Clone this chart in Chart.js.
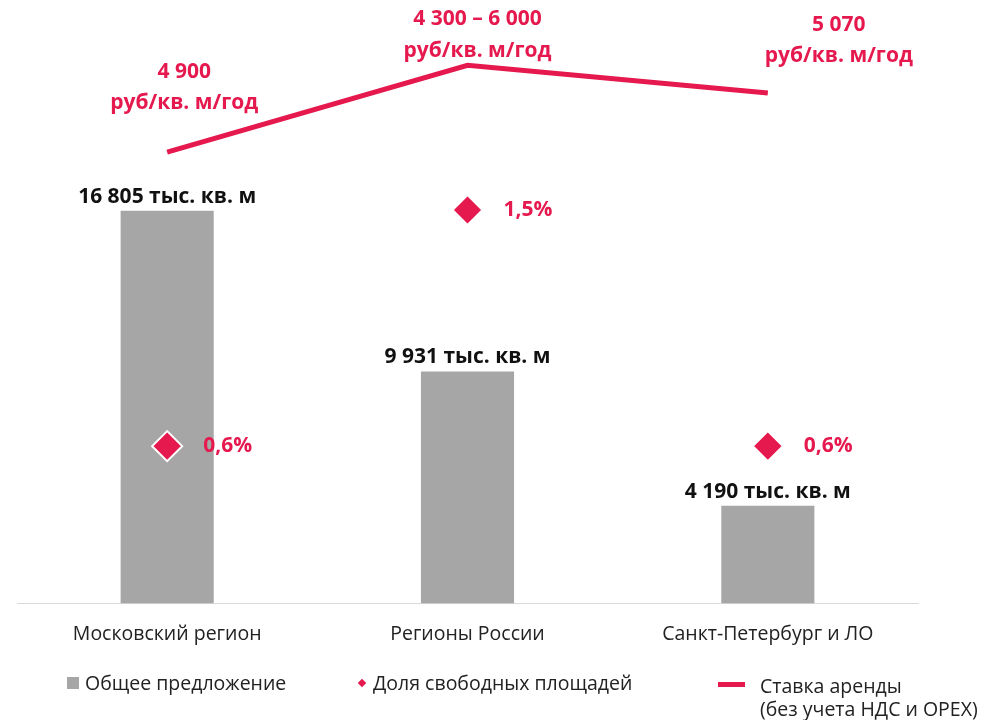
<!DOCTYPE html>
<html lang="ru">
<head>
<meta charset="utf-8">
<script src="https://cdn.jsdelivr.net/npm/chart.js@4/dist/chart.umd.min.js"></script>
<style>
  html, body { margin: 0; padding: 0; background: #fff; }
  body { width: 984px; height: 720px; position: relative; overflow: hidden; font-family: "Open Sans", sans-serif; color: #222; }
  #wrap { position: absolute; left: 0; top: 0; width: 984px; height: 680px; }
  .legend { position: absolute; font-size: 19.5px; line-height: 23px; color: #222; white-space: nowrap; }
  .sq { position: absolute; width: 12px; height: 12px; background: #a6a6a6; }
  .dm { position: absolute; width: 6px; height: 6px; background: #e5194e; transform: rotate(45deg); }
  .ln { position: absolute; width: 27px; height: 5px; background: #e5194e; }
</style>
</head>
<body>
<div id="wrap"><canvas id="rentChart" width="984" height="680"></canvas></div>

<div class="sq" style="left:67px; top:677px;"></div>
<div class="legend" style="left:85px; top:671px;">Общее предложение</div>
<div class="dm" style="left:359px; top:680px;"></div>
<div class="legend" style="left:373px; top:671px;">Доля свободных площадей</div>
<div class="ln" style="left:718px; top:682px;"></div>
<div class="legend" style="left:760px; top:674px;">Ставка аренды<br>(без учета НДС и OPEX)</div>

<script>
// categories
const regions = ["Московский регион", "Регионы России", "Санкт-Петербург и ЛО"]

// total supply, thousand sq. m
const supply = [16805, 9931, 4190]
const supplyLabels = ["16 805 тыс. кв. м", "9 931 тыс. кв. м", "4 190 тыс. кв. м"]

// vacancy share, %
const vacancy = [0.6, 1.5, 0.6]
const vacancyLabels = ["0,6%", "1,5%", "0,6%"]

// rent rate, rub per sq. m per year (range midpoint for regions)
const rent = [4900, 5150, 5070]
const rentLabels = ["4 900", "4 300 – 6 000", "5 070"]

const RED = "#e5194e"
const GREY = "#a6a6a6"

// labels drawn on top of the marks
const labelPlugin = {
  id: "labels",
  afterDatasetsDraw(chart) {
    const ctx = chart.ctx
    ctx.save()
    ctx.textAlign = "center"
    ctx.textBaseline = "middle"

    // bar values
    ctx.font = "bold 21px 'Open Sans'"
    ctx.fillStyle = "#111"
    chart.getDatasetMeta(0).data.forEach((bar, i) => {
      ctx.fillText(supplyLabels[i], bar.x, bar.y - 14)
    })

    // vacancy values
    ctx.fillStyle = RED
    ctx.textAlign = "left"
    chart.getDatasetMeta(1).data.forEach((pt, i) => {
      ctx.fillText(vacancyLabels[i], pt.x + 36, pt.y)
    })

    // rent values
    ctx.textAlign = "center"
    const offsets = [[17, -80, -49], [10, -46, -14], [71, -68, -37]]
    chart.getDatasetMeta(2).data.forEach((pt, i) => {
      const [dx, y1, y2] = offsets[i]
      ctx.fillText(rentLabels[i], pt.x + dx, pt.y + y1)
      ctx.fillText("руб/кв. м/год", pt.x + dx, pt.y + y2)
    })
    ctx.restore()
  },
}

const ctx = document.getElementById("rentChart").getContext("2d")
new Chart(ctx, {
  data: {
    labels: regions,
    datasets: [
      {
        type: "bar",
        label: "Общее предложение",
        data: supply,
        backgroundColor: GREY,
        barPercentage: 0.31,
        categoryPercentage: 1,
        yAxisID: "y",
        order: 3,
      },
      {
        type: "line",
        label: "Доля свободных площадей",
        data: vacancy,
        showLine: false,
        pointStyle: "rectRot",
        pointRadius: 15,
        pointBackgroundColor: RED,
        pointBorderColor: "#fff",
        pointBorderWidth: 2,
        yAxisID: "y3",
        order: 1,
      },
      {
        type: "line",
        label: "Ставка аренды",
        data: rent,
        borderColor: RED,
        borderWidth: 5,
        pointRadius: 0,
        tension: 0,
        yAxisID: "y2",
        order: 2,
      },
    ],
  },
  options: {
    responsive: false,
    animation: false,
    layout: {
      autoPadding: false,
      padding: { left: 17, right: 66, top: 10, bottom: 15 },
    },
    plugins: {
      legend: { display: false },
      tooltip: { enabled: false },
    },
    scales: {
      x: {
        grid: { display: false, drawTicks: false },
        border: { color: "#d9d9d9", width: 1 },
        ticks: {
          color: "#222",
          font: { family: "Open Sans", size: 19.5 },
          padding: 19,
        },
      },
      y: { display: false, min: 0, max: 25400 },
      y2: { display: false, min: 3601, max: 5309 },
      y3: { display: false, min: 0, max: 2.262 },
    },
  },
  plugins: [labelPlugin],
})
</script>
</body>
</html>
